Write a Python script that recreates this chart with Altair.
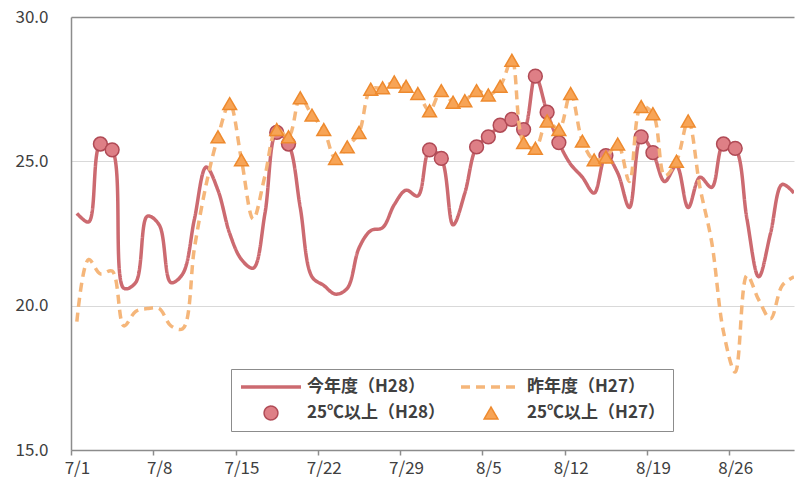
import json
import altair as alt
import pandas as pd

# ---- data ----
days = list(range(62))  # 0 = 7/1 ... 61 = 8/31
tick_labels = ["7/1", "7/8", "7/15", "7/22", "7/29", "8/5", "8/12", "8/19", "8/26"]

h28 = [23.2, 22.9, 25.6, 25.4, 20.6, 20.8, 23.1, 22.8, 20.8, 21.1,
       23.0, 24.8, 24.0, 22.5, 21.6, 21.3, 23.2, 26.0, 25.6, 23.4,
       21.0, 20.7, 20.4, 20.6, 22.0, 22.6, 22.7, 23.5, 24.0, 23.8,
       25.4, 25.1, 22.8, 23.9, 25.5, 25.85, 26.25, 26.45, 26.1, 27.95,
       26.7, 25.65, 24.9, 24.45, 23.9, 25.2, 24.6, 23.4, 25.85, 25.3,
       24.3, 24.85, 23.4, 24.45, 24.1, 25.6, 25.45, 23.0, 21.0, 22.5,
       24.2, 23.9]

h27 = [19.45, 21.6, 21.1, 21.2, 19.3, 19.8, 19.9, 19.9, 19.3, 19.2,
       22.0, 24.2, 25.85, 27.0, 25.05, 23.0, 24.5, 26.1, 25.85, 27.2,
       26.6, 26.1, 25.1, 25.5, 26.0, 27.5, 27.55, 27.75, 27.6, 27.35,
       26.75, 27.45, 27.05, 27.1, 27.45, 27.3, 27.6, 28.5, 25.65, 25.45,
       26.4, 26.1, 27.35, 25.7, 25.05, 25.15, 25.6, 24.3, 26.9, 26.65,
       24.5, 25.0, 26.4, 24.1, 22.2, 19.1, 17.7, 21.05, 20.2, 19.55,
       20.7, 21.0]

line_labels = ["今年度（H28）", "昨年度（H27）"]
marker_labels = ["25℃以上（H28）", "25℃以上（H27）"]
legend_keys = line_labels + marker_labels
threshold = 25.0
y_ticks = [15, 20, 25, 30]

rows = []
for series, vals, ll, ml in [("H28", h28, line_labels[0], marker_labels[0]),
                             ("H27", h27, line_labels[1], marker_labels[1])]:
    for d, v in zip(days, vals):
        rows.append({"day": d, "value": v, "series": series, "label": ll, "mlabel": ml})
df = pd.DataFrame(rows)

# ---- styles ----
FONT = "Noto Sans CJK JP"
TXT = "#404040"
AXIS = "#8c8c8c"
RED_LINE = "#CC6A70"
ORANGE_LINE = "#F5B67A"
RED_FILL = "#DE7F86"
RED_STROKE = "#B04A55"
ORANGE_FILL = "#F7A456"
ORANGE_STROKE = "#EE8A2E"

PAD_L, PAD_T = 71, 17

x_enc = alt.X(
    "day:Q",
    scale=alt.Scale(domain=[-0.5, 61], nice=False, zero=False),
    axis=alt.Axis(
        title=None,
        values=[-0.5 + 7 * k for k in range(len(tick_labels))],
        labelExpr=json.dumps(tick_labels) + "[round((datum.value + 0.5) / 7)]",
        labelOffset=5.9,
        labelFlush=False,
        labelOverlap=False,
        grid=False,
        domainColor=AXIS,
        domainWidth=1.5,
        tickColor=AXIS,
        tickSize=5,
        tickWidth=1.5,
        labelPadding=5,
        labelFont=FONT,
        labelFontSize=17,
        labelColor=TXT,
    ),
)
y_enc = alt.Y(
    "value:Q",
    scale=alt.Scale(domain=[15, 30], nice=False, zero=False),
    axis=alt.Axis(
        title=None,
        values=y_ticks,
        format=".1f",
        ticks=False,
        domainColor=AXIS,
        domainWidth=1.5,
        gridColor={"condition": {"test": "datum.value >= 30", "value": AXIS}, "value": "#d9d9d9"},
        gridWidth={"condition": {"test": "datum.value >= 30", "value": 1.5}, "value": 1},
        labelPadding=23,
        labelFont=FONT,
        labelFontSize=17,
        labelColor=TXT,
    ),
)

legend = alt.Legend(
    title=None,
    orient="none",
    legendX=231 - PAD_L,
    legendY=369 - PAD_T,
    direction="horizontal",
    columns=2,
    clipHeight=20,
    rowPadding=6,
    columnPadding=14,
    labelOffset=4,
    padding=8,
    strokeColor=AXIS,
    labelFont=FONT,
    labelFontSize=17,
    labelFontWeight="bold",
    labelColor=TXT,
    labelLimit=300,
)

stroke_scale = alt.Scale(domain=legend_keys, range=[RED_LINE, ORANGE_LINE, RED_STROKE, ORANGE_STROKE])
dash_scale = alt.Scale(domain=legend_keys, range=[[1, 0], [9, 6], [1, 0], [1, 0]])
width_scale = alt.Scale(type="ordinal", domain=legend_keys, range=[3.5, 3.5, 1.5, 1.5])
fill_scale = alt.Scale(domain=legend_keys, range=["transparent", "transparent", RED_FILL, ORANGE_FILL])
shape_scale = alt.Scale(domain=legend_keys, range=["stroke", "stroke", "circle", "triangle-up"])
size_scale = alt.Scale(type="ordinal", domain=legend_keys, range=[3600, 3600, 190, 190])

stroke_enc = alt.Stroke("key:N", scale=stroke_scale, legend=legend)
width_enc = alt.StrokeWidth("key:N", scale=width_scale, legend=legend)

base = alt.Chart(df)


def line_layer(series):
    return base.transform_filter(alt.datum.series == series).transform_calculate(
        key="datum.label"
    ).mark_line(interpolate="catmull-rom", clip=True).encode(
        x=x_enc,
        y=y_enc,
        stroke=stroke_enc,
        strokeWidth=width_enc,
        strokeDash=alt.StrokeDash("key:N", scale=dash_scale, legend=legend),
    )


def point_layer(series):
    return base.transform_filter(
        (alt.datum.series == series) & (alt.datum.value >= threshold)
    ).transform_calculate(key="datum.mlabel").mark_point(filled=True, opacity=1).encode(
        x=x_enc,
        y=y_enc,
        stroke=stroke_enc,
        strokeWidth=width_enc,
        fill=alt.Fill("key:N", scale=fill_scale, legend=legend),
        shape=alt.Shape("key:N", scale=shape_scale, legend=legend),
        size=alt.Size("key:N", scale=size_scale, legend=legend),
    )


chart = alt.layer(
    line_layer("H28"),
    point_layer("H28"),
    line_layer("H27"),
    point_layer("H27"),
).properties(
    width=723,
    height=433,
    autosize=alt.AutoSizeParams(type="none"),
    padding={"left": PAD_L, "top": PAD_T, "right": 1, "bottom": 35},
    background="white",
).configure_view(stroke=None)

chart.save("out.html", embed_options={"renderer": "svg", "actions": False})
